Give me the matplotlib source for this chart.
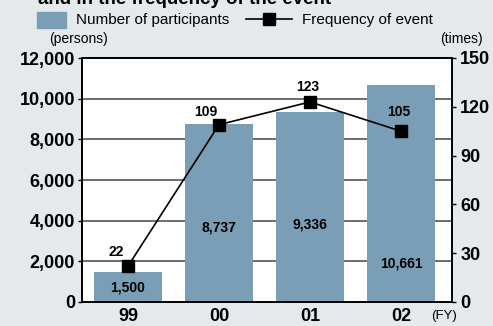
import matplotlib
matplotlib.use("Agg")
import matplotlib.pyplot as plt
from matplotlib.patches import Rectangle
from matplotlib.lines import Line2D
import numpy as np

# fiscal years, participants (bars) and number of events (line)
years = ["99", "00", "01", "02"]
participants = [1500, 8737, 9336, 10661]
events = [22, 109, 123, 105]

# where the participant counts are written inside each bar
bar_label_y = [690, 3640, 3830, 1870]
# pixel offsets of the event counts relative to their markers
event_label_off = [(-12, 14), (-13, 13), (-2, 15), (-2, 19)]

BG = "#e5e9ec"
BAR = "#7a9eb5"
FONT = ["Liberation Sans", "DejaVu Sans"]

W, H = 493, 326
fig = plt.figure(figsize=(W / 100, H / 100), dpi=100, facecolor=BG)
ax = fig.add_axes([82 / W, 24 / H, 370 / W, 244 / H])
ax.set_facecolor("white")

x = np.arange(len(years))
for v in range(2000, 12000, 2000):
    ax.axhline(v, color="#555555", lw=1.2, zorder=0)
ax.bar(x, participants, width=0.75, color=BAR, zorder=2)
ax.set_xlim(-0.505, 3.56)
ax.set_ylim(0, 12000)
ax.set_yticks(range(0, 12001, 2000))
ax.set_yticklabels([f"{v:,}" for v in range(0, 12001, 2000)])
ax.set_xticks(x)
ax.set_xticklabels(years)
for s in ax.spines.values():
    s.set_linewidth(1.2)
    s.set_color("black")
ax.tick_params(axis="y", length=3, width=1, pad=2)
ax.tick_params(axis="x", length=0, pad=4)
for lbl in ax.get_yticklabels() + ax.get_xticklabels():
    lbl.set_fontfamily(FONT)
    lbl.set_fontweight("bold")
    lbl.set_fontsize(13)

for i, v in enumerate(participants):
    ax.text(x[i], bar_label_y[i], f"{v:,}", ha="center", va="center",
            fontsize=10, fontweight="bold", family=FONT, zorder=4)

ax2 = ax.twinx()
ax2.set_ylim(0, 150)
ax2.set_yticks(range(0, 151, 30))
ax2.plot(x, events, color="black", lw=1.2, marker="s", markersize=8,
         markerfacecolor="black", zorder=5)
ax2.tick_params(axis="y", length=3, width=1, pad=3)
for lbl in ax2.get_yticklabels():
    lbl.set_fontfamily(FONT)
    lbl.set_fontweight("bold")
    lbl.set_fontsize(13)
for s in ax2.spines.values():
    s.set_linewidth(1.2)
for i, v in enumerate(events):
    dx, dy = event_label_off[i]
    ax2.annotate(str(v), (x[i], v), xytext=(dx * 0.72, dy * 0.72),
                 textcoords="offset points", ha="center", va="center",
                 fontsize=10, fontweight="bold", family=FONT)

# headline, partly cut off at the top edge
fig.text(38 / W, 1 - 4 / H, "and in the frequency of the event", ha="left",
         va="baseline", fontsize=13.5, fontweight="bold", family=FONT)

# legend row
fig.patches.append(Rectangle((37 / W, 1 - 28 / H), 29 / W, 16 / H,
                             transform=fig.transFigure, color=BAR))
fig.text(76 / W, 1 - 20 / H, "Number of participants", ha="left", va="center",
         fontsize=11, family=FONT)
fig.lines.append(Line2D([246 / W, 292 / W], [1 - 19 / H, 1 - 19 / H],
                        transform=fig.transFigure, color="black", lw=1.2))
fig.lines.append(Line2D([269 / W], [1 - 19 / H], transform=fig.transFigure,
                        marker="s", markersize=8, color="black"))
fig.text(302 / W, 1 - 20 / H, "Frequency of event", ha="left", va="center",
         fontsize=11, family=FONT)

fig.text(49 / W, 1 - 39 / H, "(persons)", ha="left", va="center",
         fontsize=10, family=FONT)
fig.text(483 / W, 1 - 39 / H, "(times)", ha="right", va="center",
         fontsize=10, family=FONT)
fig.text(444 / W, 1 - 316 / H, "(FY)", ha="center", va="center",
         fontsize=9.5, family=FONT)

fig.savefig("out.png", dpi=100, facecolor=BG)
